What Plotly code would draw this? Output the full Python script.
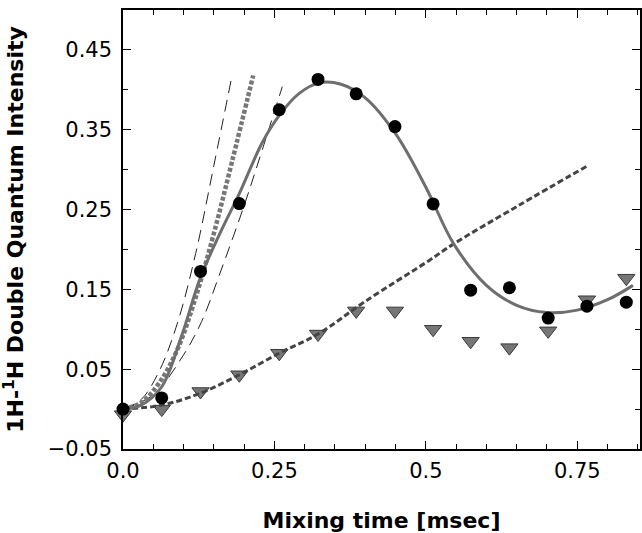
import plotly.graph_objects as go

# Measured data: circles (filled black) and triangles (gray)
t_pts = [0.0, 0.064, 0.128, 0.192, 0.258, 0.322, 0.385, 0.449, 0.512, 0.574, 0.638, 0.702, 0.766, 0.831]
circ_y = [0.0, 0.014, 0.1725, 0.2575, 0.375, 0.413, 0.395, 0.354, 0.257, 0.149, 0.152, 0.114, 0.129, 0.134]
tri_y = [-0.007, 0.0, 0.022, 0.043, 0.07, 0.094, 0.123, 0.123, 0.10, 0.085, 0.077, 0.098, 0.137, 0.164]

# Fit curve through circles (solid gray)
fit_x = [0.0, 0.03, 0.064, 0.096, 0.128, 0.16, 0.192, 0.23, 0.258, 0.29, 0.325, 0.36, 0.4, 0.45,
         0.5, 0.546, 0.6, 0.65, 0.7, 0.75, 0.8, 0.842]
fit_y = [0.0, 0.005, 0.028, 0.09, 0.165, 0.22, 0.27, 0.334, 0.368, 0.395, 0.409, 0.407, 0.39, 0.345,
         0.278, 0.207, 0.155, 0.13, 0.121, 0.124, 0.137, 0.155]

# Thick gray dotted short-time curve
dot_x = [0.0, 0.03, 0.06, 0.09, 0.12, 0.15, 0.18, 0.215]
dot_y = [0.0, 0.008, 0.033, 0.075, 0.14, 0.22, 0.31, 0.418]

# Thin dashed bounds
up_x = [0.0, 0.03, 0.06, 0.09, 0.12, 0.15, 0.179]
up_y = [0.0, 0.012, 0.048, 0.108, 0.195, 0.305, 0.414]
lo_x = [0.0, 0.05, 0.1, 0.13, 0.16, 0.2, 0.23, 0.263]
lo_y = [0.0, 0.018, 0.068, 0.11, 0.17, 0.255, 0.325, 0.404]

# Dark dashed curve through triangles
tri_fit_x = [0.0, 0.064, 0.128, 0.192, 0.258, 0.322, 0.4, 0.505, 0.546, 0.653, 0.765]
tri_fit_y = [0.0, 0.005, 0.02, 0.043, 0.07, 0.094, 0.135, 0.186, 0.207, 0.255, 0.304]

x_tickvals = [0.0, 0.25, 0.5, 0.75]
x_ticktext = ["0.0", "0.25", "0.5", "0.75"]
y_tickvals = [-0.05, 0.05, 0.15, 0.25, 0.35, 0.45]
y_ticktext = ["\u22120.05", "0.05", "0.15", "0.25", "0.35", "0.45"]

fig = go.Figure()

fig.add_trace(go.Scatter(x=t_pts, y=tri_y, mode="markers", cliponaxis=False,
                         marker=dict(symbol="triangle-down", size=15, color="#767676",
                                     line=dict(color="#3a3a3a", width=1))))
fig.add_trace(go.Scatter(x=up_x, y=up_y, mode="lines", line_shape="spline",
                         line=dict(color="#222", width=1, dash="12px,7px")))
fig.add_trace(go.Scatter(x=lo_x, y=lo_y, mode="lines", line_shape="spline",
                         line=dict(color="#222", width=1, dash="12px,7px")))
fig.add_trace(go.Scatter(x=dot_x, y=dot_y, mode="lines", line_shape="spline",
                         line=dict(color="#777777", width=4.5, dash="4px,2px")))
fig.add_trace(go.Scatter(x=tri_fit_x, y=tri_fit_y, mode="lines", line_shape="spline",
                         line=dict(color="#444", width=3, dash="6px,3px")))
fig.add_trace(go.Scatter(x=fit_x, y=fit_y, mode="lines", line_shape="spline",
                         line=dict(color="#6e6e6e", width=3)))
fig.add_trace(go.Scatter(x=t_pts, y=circ_y, mode="markers", cliponaxis=False,
                         marker=dict(symbol="circle", size=13, color="black")))

tick_font = dict(family="DejaVu Sans, sans-serif", size=21, color="black")

fig.update_layout(
    width=642, height=533,
    margin=dict(l=123, r=0, t=10, b=84),
    paper_bgcolor="white", plot_bgcolor="white",
    showlegend=False,
    font=tick_font,
    xaxis=dict(range=[0, 0.8536], tickvals=x_tickvals, ticktext=x_ticktext,
               ticks="inside", ticklen=8, tickwidth=1, tickcolor="black",
               minor=dict(dtick=0.05, tick0=0, ticks="inside", ticklen=5, tickcolor="black"),
               showline=True, linecolor="black", linewidth=1.5, mirror="allticks",
               showgrid=False, zeroline=False, tickfont=tick_font, ticklabelstandoff=2,
               title=dict(text="<b>Mixing time [msec]</b>",
                          font=dict(family="DejaVu Sans, sans-serif", size=22), standoff=32)),
    yaxis=dict(range=[-0.05, 0.5], tickvals=y_tickvals, ticktext=y_ticktext,
               ticks="inside", ticklen=8, tickwidth=1, tickcolor="black",
               minor=dict(dtick=0.1, tick0=0.0, ticks="inside", ticklen=5, tickcolor="black"),
               showline=True, linecolor="black", linewidth=1.5, mirror="allticks",
               showgrid=False, zeroline=False, tickfont=tick_font, ticklabelstandoff=5,
               title=dict(text="<b>1H-<sup>1</sup>H Double Quantum Intensity</b>",
                          font=dict(family="DejaVu Sans, sans-serif", size=22), standoff=24)),
)

fig.write_html("out.html")
